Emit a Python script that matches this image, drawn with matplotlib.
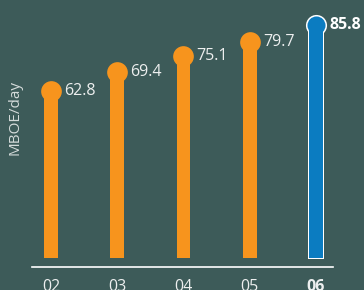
import matplotlib.pyplot as plt

years = ['02', '03', '04', '05', '06']
production = [62.8, 69.4, 75.1, 79.7, 85.8]
highlight = 4  # latest year drawn in blue

BG = '#3D5B59'
ORANGE = '#F7941D'
BLUE = '#0B7CC1'
TXT = '#EDEFEF'
BASE = 4.24  # bars start slightly above the axis line

plt.rcParams['font.family'] = ['Open Sans', 'DejaVu Sans']

fig = plt.figure(figsize=(3.64, 2.90), dpi=100, facecolor=BG)
ax = fig.add_axes([32 / 364, 23 / 290, 301 / 364, 267 / 290], facecolor=BG)

x = list(range(len(years)))
for i, v in enumerate(production):
    if i == highlight:
        ax.bar(i, v - BASE + 0.5, bottom=BASE - 0.5, width=0.25, color='white', zorder=2)
        ax.plot(i, v, 'o', ms=15.2, color='white', mew=0, zorder=2)
        ax.bar(i, v - BASE, bottom=BASE, width=0.205, color=BLUE, zorder=3)
        ax.plot(i, v, 'o', ms=13.0, color=BLUE, mew=0, zorder=3)
        ax.annotate(f'{v}', (i, v), xytext=(10, 0), textcoords='offset points',
                    va='center', ha='left', color='white', fontsize=11.5, fontweight='bold')
    else:
        ax.bar(i, v - BASE, bottom=BASE, width=0.207, color=ORANGE, zorder=2)
        ax.plot(i, v, 'o', ms=14.9, color=ORANGE, mew=0, zorder=3)
        ax.annotate(f'{v}', (i, v), xytext=(9.5, 0), textcoords='offset points',
                    va='center', ha='left', color=TXT, fontsize=11.5)

ax.set_xlim(-0.287, 4.257)
ax.set_ylim(1.09, 94.55)

for s in ['top', 'right', 'left']:
    ax.spines[s].set_visible(False)
ax.spines['bottom'].set_color('white')
ax.spines['bottom'].set_linewidth(1.2)

ax.set_yticks([])
ax.set_xticks(x)
ax.set_xticklabels(years, color=TXT, fontsize=11.5)
ax.get_xticklabels()[highlight].set_fontweight('bold')
ax.tick_params(axis='x', length=0, pad=8.5)

fig.text(15 / 364, 1 - 118 / 290, 'MBOE/day', rotation=90, ha='center', va='center',
         color='#D5DCDB', fontsize=11)

fig.savefig('out.png', dpi=100, facecolor=BG)
